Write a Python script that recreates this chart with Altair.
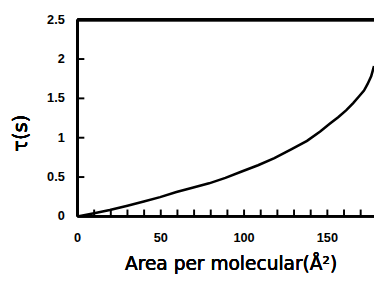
import altair as alt
import pandas as pd

area = [0, 10, 19.4, 30, 39.8, 49.6, 59.4, 69, 79, 88.8, 98.6, 108.4, 118.2, 128, 137.8, 145.7, 151.6, 156.5, 161.4, 165.5, 169.2, 172, 174.1, 176.3, 178]
tau = [0, 0.04, 0.08, 0.135, 0.19, 0.245, 0.31, 0.365, 0.42, 0.49, 0.57, 0.65, 0.74, 0.85, 0.96, 1.08, 1.18, 1.26, 1.35, 1.44, 1.53, 1.60, 1.68, 1.78, 1.91]

x_minor = [10, 20, 30, 40, 50, 60, 70, 80, 90, 100, 110, 120, 130, 140, 150, 160, 170]
x_label_vals = [0, 50, 100, 150]
x_label_text = ["0", "50", "100", "150"]
y_minor = [0.5, 1.0, 1.5, 2.0]
y_label_vals = [0, 0.5, 1.0, 1.5, 2.0, 2.5]
y_label_text = ["0", "0.5", "1", "1.5", "2", "2.5"]
x_title = "Area per molecular(Å²)"
y_title = "τ(s)"

W, H = 303, 201
XMAX = 178

curve = pd.DataFrame({"area": area, "tau": tau})
xt = pd.DataFrame({"xpos": x_minor})
yt = pd.DataFrame({"ypos": y_minor})
xl = pd.DataFrame({"xval": x_label_vals, "txt": x_label_text})
yl = pd.DataFrame({"yval": y_label_vals, "txt": y_label_text})

xscale = alt.Scale(domain=[0, XMAX], nice=False, zero=True)
yscale = alt.Scale(domain=[0, 2.5], nice=False)

lab_font = "Liberation Sans"
title_font = "DejaVu Sans"

line = alt.Chart(curve).mark_line(color="black", strokeWidth=2.6, clip=True).encode(
    x=alt.X("area:Q", scale=xscale, axis=None),
    y=alt.Y("tau:Q", scale=yscale, axis=None),
)

xticks = alt.Chart(xt).mark_rule(color="black", strokeWidth=2).encode(
    x=alt.X("xpos:Q", scale=xscale, axis=None),
    y=alt.value(H - 7),
    y2=alt.value(H),
)

yticks = alt.Chart(yt).mark_rule(color="black", strokeWidth=2).encode(
    y=alt.Y("ypos:Q", scale=yscale, axis=None),
    x=alt.value(0),
    x2=alt.value(7),
)

top = alt.Chart(yt).mark_rule(color="black", strokeWidth=3).encode(
    x=alt.value(0), x2=alt.value(W), y=alt.value(0)
)
left = alt.Chart(yt).mark_rule(color="black", strokeWidth=2.5).encode(
    x=alt.value(0), y=alt.value(0), y2=alt.value(H)
)
bottom = alt.Chart(yt).mark_rule(color="black", strokeWidth=2.5).encode(
    x=alt.value(0), x2=alt.value(W), y=alt.value(H)
)

xlabels = alt.Chart(xl).mark_text(
    font=lab_font, fontSize=13, fontWeight="bold", color="black",
    align="center", baseline="middle"
).encode(
    x=alt.X("xval:Q", scale=xscale, axis=None),
    y=alt.value(H + 22),
    text="txt:N",
)

ylabels = alt.Chart(yl).mark_text(
    font=lab_font, fontSize=13, fontWeight="bold", color="black",
    align="right", baseline="middle"
).encode(
    y=alt.Y("yval:Q", scale=yscale, axis=None),
    x=alt.value(-13),
    text="txt:N",
)

xtitle = alt.Chart(xl).mark_text(
    font=title_font, fontSize=19, fontWeight="normal", color="black",
    align="center", baseline="middle", text=x_title
).encode(x=alt.value(157), y=alt.value(H + 49))

ytitle = alt.Chart(yl).mark_text(
    font=title_font, fontSize=20, fontWeight="normal", color="black",
    align="center", baseline="middle", angle=270, text=y_title
).encode(x=alt.value(-58), y=alt.value(116))

chart = alt.layer(line, xticks, yticks, top, left, bottom, xlabels, ylabels, xtitle, ytitle).properties(
    width=W, height=H,
    autosize=alt.AutoSizeParams(type="none"),
    padding={"left": 71, "top": 9, "right": 0, "bottom": 60},
).configure_view(stroke=None)

chart.save("out.html", embed_options={"renderer": "svg", "actions": False})
